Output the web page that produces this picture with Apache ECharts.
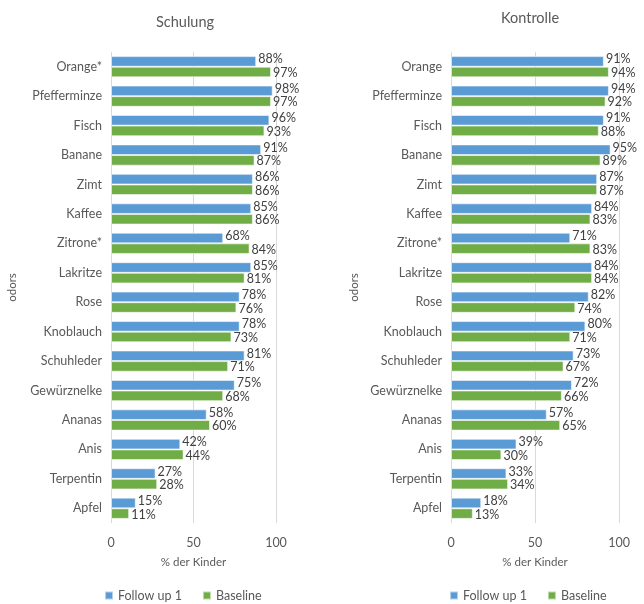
<!DOCTYPE html>
<html>
<head>
<meta charset="utf-8">
<script src="https://cdn.jsdelivr.net/npm/echarts@6/dist/echarts.min.js"></script>
<style>
  html, body { margin: 0; padding: 0; background: #fff; }
  #chart { width: 644px; height: 604px; }
</style>
</head>
<body>
<div id="chart"></div>
<script>
// Odour identification rates (% of children), two groups
const schulungOdors = ['Orange*', 'Pfefferminze', 'Fisch', 'Banane', 'Zimt', 'Kaffee', 'Zitrone*', 'Lakritze', 'Rose', 'Knoblauch', 'Schuhleder', 'Gewürznelke', 'Ananas', 'Anis', 'Terpentin', 'Apfel'];
const schulungFollowUp = [88, 98, 96, 91, 86, 85, 68, 85, 78, 78, 81, 75, 58, 42, 27, 15];
const schulungBaseline = [97, 97, 93, 87, 86, 86, 84, 81, 76, 73, 71, 68, 60, 44, 28, 11];

const kontrolleOdors = ['Orange', 'Pfefferminze', 'Fisch', 'Banane', 'Zimt', 'Kaffee', 'Zitrone*', 'Lakritze', 'Rose', 'Knoblauch', 'Schuhleder', 'Gewürznelke', 'Ananas', 'Anis', 'Terpentin', 'Apfel'];
const kontrolleFollowUp = [91, 94, 91, 95, 87, 84, 71, 84, 82, 80, 73, 72, 57, 39, 33, 18];
const kontrolleBaseline = [94, 92, 88, 89, 87, 83, 83, 84, 74, 71, 67, 66, 65, 30, 34, 13];

const xTicks = [0, 50, 100];
const seriesNames = ['Follow up 1', 'Baseline'];

const FONT = 'Lato, "Open Sans", sans-serif';
const BLUE = '#5B9BD5';
const GREEN = '#70AD47';
const TEXT = '#595959';

const chart = echarts.init(document.getElementById('chart'));

function xAxisFor(gridIndex) {
  return {
    type: 'value', gridIndex, min: 0, max: 100, interval: 50,
    name: '% der Kinder', nameLocation: 'middle', nameGap: 33,
    nameTextStyle: { color: TEXT, fontSize: 11.5, fontFamily: FONT },
    axisLine: { show: false }, axisTick: { show: false },
    axisLabel: { color: TEXT, fontSize: 12.5, fontFamily: FONT, margin: 13,
      formatter: v => xTicks.includes(v) ? String(v) : '' },
    splitLine: { show: true, lineStyle: { color: '#D9D9D9', width: 1 } }
  };
}

function yAxisFor(gridIndex, cats, gap) {
  return {
    type: 'category', gridIndex, data: cats, inverse: true,
    name: 'odors', nameLocation: 'middle', nameGap: gap, nameRotate: 90,
    nameTextStyle: { color: TEXT, fontSize: 11.5, fontFamily: FONT },
    axisLine: { show: false }, axisTick: { show: false },
    axisLabel: { color: TEXT, fontSize: 12.5, fontFamily: FONT, margin: 9 }
  };
}

function barSeries(name, data, idx, color, dy) {
  return {
    name, type: 'bar', xAxisIndex: idx, yAxisIndex: idx, data,
    barGap: '0%', barCategoryGap: '28%',
    itemStyle: { color, borderColor: 'rgba(255,255,255,0.55)', borderWidth: 1 },
    label: {
      show: true, position: 'right', distance: 2, offset: [0, dy],
      formatter: p => p.value + '%',
      color: '#404040', fontSize: 12.5, fontFamily: FONT
    }
  };
}

chart.setOption({
  animation: false,
  color: [BLUE, GREEN],
  title: [
    { text: 'Schulung', left: 180, top: 10, textAlign: 'center',
      textStyle: { color: TEXT, fontSize: 14.5, fontWeight: 'normal', fontFamily: FONT } },
    { text: 'Kontrolle', left: 525, top: 6, textAlign: 'center',
      textStyle: { color: TEXT, fontSize: 14.5, fontWeight: 'normal', fontFamily: FONT } }
  ],
  legend: [
    { data: seriesNames, left: 99, top: 584, itemWidth: 8, itemHeight: 8, itemGap: 20,
      icon: 'rect', textStyle: { color: TEXT, fontSize: 12.5, fontFamily: FONT } },
    { data: seriesNames, left: 444, top: 584, itemWidth: 8, itemHeight: 8, itemGap: 20,
      icon: 'rect', textStyle: { color: TEXT, fontSize: 12.5, fontFamily: FONT } }
  ],
  grid: [
    { left: 111, width: 165, top: 52, height: 471 },
    { left: 451, width: 168, top: 52, height: 471 }
  ],
  xAxis: [xAxisFor(0), xAxisFor(1)],
  yAxis: [yAxisFor(0, schulungOdors, 93), yAxisFor(1, kontrolleOdors, 91)],
  series: [
    barSeries(seriesNames[0], schulungFollowUp, 0, BLUE, -2),
    barSeries(seriesNames[1], schulungBaseline, 0, GREEN, 1),
    barSeries(seriesNames[0], kontrolleFollowUp, 1, BLUE, -2),
    barSeries(seriesNames[1], kontrolleBaseline, 1, GREEN, 1)
  ]
});
</script>
</body>
</html>
